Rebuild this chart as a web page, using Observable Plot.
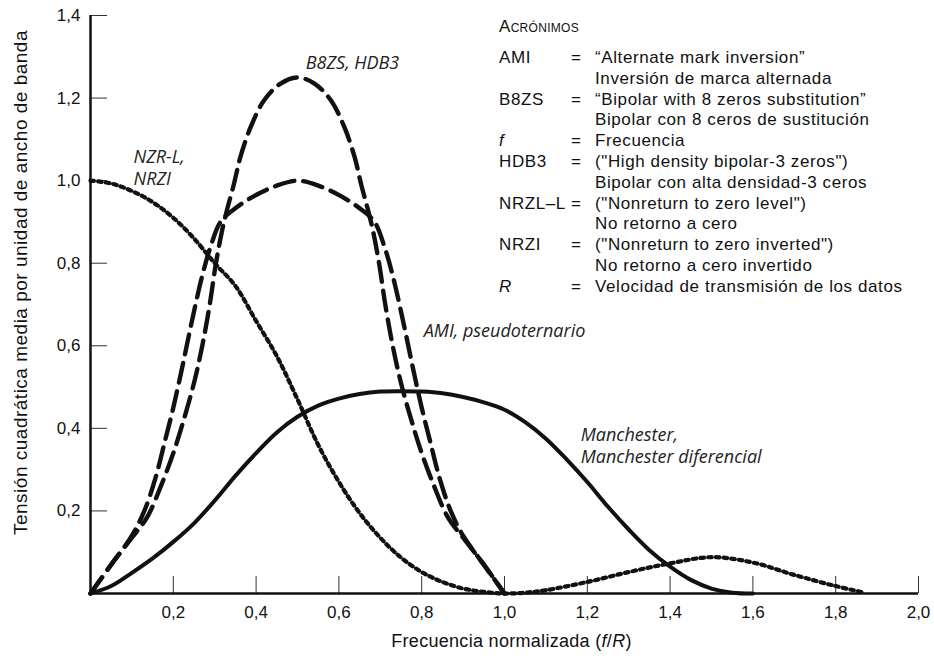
<!DOCTYPE html>
<html><head><meta charset="utf-8">
<script src="https://cdn.jsdelivr.net/npm/d3@7"></script>
<script src="https://cdn.jsdelivr.net/npm/@observablehq/plot@0.6"></script>
<style>
html,body{margin:0;padding:0;background:#fff;}
#wrap{position:relative;width:934px;height:659px;font-family:"Liberation Sans",Arial,sans-serif;color:#111;}
#legend{position:absolute;left:499px;top:17px;font-size:17px;line-height:20.8px;letter-spacing:0.6px;}
#legend .hdr{font-variant:small-caps;height:31px;letter-spacing:0.3px;}
#legend .row{display:grid;grid-template-columns:72px 24px auto;height:20.8px;white-space:nowrap;}
#legend i{font-style:italic;}
</style></head>
<body><div id="wrap"><div id="chart"></div><div id="legend"></div></div>
<script>
// ---- data ----
const xTicks = [0.2, 0.4, 0.6, 0.8, 1.0, 1.2, 1.4, 1.6, 1.8, 2.0];
const yTicks = [0.2, 0.4, 0.6, 0.8, 1.0, 1.2, 1.4];

// NRZ-L, NRZI (dotted)
const nrzF = [0, 0.05, 0.1, 0.15, 0.2, 0.25, 0.3, 0.35, 0.4, 0.45, 0.5, 0.55, 0.6, 0.65, 0.7, 0.75, 0.8, 0.85, 0.9, 0.95, 1.0, 1.05, 1.1, 1.2, 1.3, 1.4, 1.5, 1.6, 1.7, 1.8, 1.87];
const nrzP = [1.0, 0.993, 0.975, 0.948, 0.91, 0.86, 0.8, 0.745, 0.66, 0.575, 0.47, 0.36, 0.27, 0.195, 0.135, 0.087, 0.052, 0.028, 0.012, 0.004, 0, 0.002, 0.008, 0.028, 0.052, 0.073, 0.088, 0.075, 0.045, 0.018, 0.002];

// B8ZS, HDB3 (dashed, peak 1.25)
const b8zsF = [0, 0.05, 0.1, 0.137, 0.17, 0.2, 0.225, 0.25, 0.27, 0.288, 0.303, 0.318, 0.33, 0.346, 0.362, 0.387, 0.419, 0.459, 0.5, 0.541, 0.581, 0.613, 0.638, 0.654, 0.67, 0.682, 0.697, 0.712, 0.73, 0.75, 0.775, 0.8, 0.83, 0.863, 0.9, 0.95, 1.0];
const b8zsP = [0, 0.07, 0.135, 0.185, 0.26, 0.34, 0.42, 0.51, 0.6, 0.7, 0.8, 0.88, 0.93, 0.99, 1.057, 1.13, 1.194, 1.235, 1.25, 1.235, 1.194, 1.13, 1.057, 0.99, 0.93, 0.88, 0.8, 0.7, 0.6, 0.51, 0.42, 0.34, 0.26, 0.185, 0.135, 0.07, 0];

// AMI, pseudoternario (dashed, peak 1.0)
const amiF = [0, 0.05, 0.1, 0.13, 0.157, 0.18, 0.2, 0.222, 0.245, 0.27, 0.29, 0.314, 0.346, 0.394, 0.45, 0.5, 0.55, 0.606, 0.654, 0.686, 0.71, 0.73, 0.755, 0.778, 0.8, 0.82, 0.843, 0.87, 0.9, 0.95, 1.0];
const amiP = [0, 0.07, 0.14, 0.2, 0.28, 0.37, 0.45, 0.55, 0.66, 0.77, 0.84, 0.9, 0.93, 0.962, 0.988, 1.0, 0.988, 0.962, 0.93, 0.9, 0.84, 0.77, 0.66, 0.55, 0.45, 0.37, 0.28, 0.2, 0.14, 0.07, 0];

// Manchester, Manchester diferencial (solid)
const manF = [0, 0.05, 0.1, 0.15, 0.2, 0.25, 0.3, 0.35, 0.4, 0.45, 0.5, 0.55, 0.6, 0.65, 0.7, 0.75, 0.8, 0.85, 0.9, 0.95, 1.0, 1.05, 1.1, 1.15, 1.2, 1.25, 1.3, 1.35, 1.4, 1.45, 1.5, 1.55, 1.6];
const manP = [0, 0.018, 0.05, 0.085, 0.125, 0.17, 0.225, 0.285, 0.34, 0.39, 0.428, 0.455, 0.472, 0.483, 0.489, 0.49, 0.489, 0.485, 0.476, 0.463, 0.445, 0.415, 0.375, 0.325, 0.27, 0.21, 0.155, 0.105, 0.065, 0.033, 0.012, 0.002, 0];

// curve labels (annotation anchor in data units)
const labelText = ["B8ZS, HDB3", "NZR-L,\nNRZI", "AMI, pseudoternario", "Manchester,\nManchester diferencial"];
const labelF = [0.52, 0.104, 0.805, 1.184];
const labelP = [1.287, 1.032, 0.639, 0.36];

// legend
const acronyms = ["AMI", "B8ZS", "f", "HDB3", "NRZL–L", "NRZI", "R"];
const acronymItalic = [false, false, true, false, false, false, true];
const acronymEN = ["“Alternate mark inversion”", "“Bipolar with 8 zeros substitution”", null, "(\"High density bipolar-3 zeros\")", "(\"Nonreturn to zero level\")", "(\"Nonreturn to zero inverted\")", null];
const acronymES = ["Inversión de marca alternada", "Bipolar con 8 ceros de sustitución", "Frecuencia", "Bipolar con alta densidad-3 ceros", "No retorno a cero", "No retorno a cero invertido", "Velocidad de transmisión de los datos"];

const xTitle = "Frecuencia normalizada (f/R)";
const yTitle = "Tensión cuadrática media por unidad de ancho de banda";

// ---- build ----
const toRows = (fs, ps) => fs.map((f, i) => ({f, p: ps[i]}));
const labels = labelText.map((t, i) => ({t, f: labelF[i], p: labelP[i]}));
const fmt = d => d.toFixed(1).replace(".", ",");

const chart = Plot.plot({
  width: 934, height: 659,
  marginLeft: 90, marginRight: 16, marginTop: 15, marginBottom: 66,
  style: {fontFamily: "'Liberation Sans', Arial, sans-serif", fontSize: "17px", background: "#fff", color: "#111"},
  x: {domain: [0, 2]},
  y: {domain: [0, 1.4]},
  marks: [
    Plot.axisX({ticks: xTicks, tickSize: -17, tickPadding: 29, tickFormat: fmt, label: null, stroke: "#333"}),
    Plot.axisY({ticks: yTicks, tickSize: -17, tickPadding: 27, tickFormat: fmt, label: null, stroke: "#333"}),
    Plot.ruleX([0], {stroke: "#111", strokeWidth: 2.5}),
    Plot.ruleY([0], {stroke: "#111", strokeWidth: 2.5}),
    Plot.line(toRows(manF, manP), {x: "f", y: "p", curve: "catmull-rom", stroke: "#111", strokeWidth: 4}),
    Plot.line(toRows(nrzF, nrzP), {x: "f", y: "p", curve: "catmull-rom", stroke: "#111", strokeWidth: 4.2, strokeDasharray: "3.5,4.2"}),
    Plot.line(toRows(amiF, amiP), {x: "f", y: "p", curve: "catmull-rom", stroke: "#111", strokeWidth: 4.4, strokeDasharray: "20,9"}),
    Plot.line(toRows(b8zsF, b8zsP), {x: "f", y: "p", curve: "catmull-rom", stroke: "#111", strokeWidth: 4.4, strokeDasharray: "20,9"}),
    Plot.text(labels, {x: "f", y: "p", text: "t", textAnchor: "start", lineHeight: 1.22, fontStyle: "italic", fontFamily: "'Open Sans', sans-serif", fontSize: 18, fill: "#222"}),
    Plot.text([xTitle], {frameAnchor: "bottom", dx: 7, dy: 53, text: d => d, fontSize: 18}),
    Plot.text([yTitle], {frameAnchor: "left", textAnchor: "middle", dx: -70, dy: -22, rotate: -90, text: d => d, fontSize: 19})
  ]
});
document.getElementById("chart").appendChild(chart);

const svg = d3.select(chart);
// italic f and R in the x title, a little tracking on titles
svg.selectAll("text").filter(function() { return this.textContent === xTitle; }).each(function() {
  const t = d3.select(this);
  t.attr("letter-spacing", "0.3px");
  t.text(null);
  t.append("tspan").text("Frecuencia normalizada (");
  t.append("tspan").attr("font-style", "italic").text("f");
  t.append("tspan").text("/");
  t.append("tspan").attr("font-style", "italic").text("R");
  t.append("tspan").text(")");
});
svg.selectAll("text").filter(function() { return this.textContent === yTitle; }).attr("letter-spacing", "0.5px");

// legend
const lg = d3.select("#legend");
lg.append("div").attr("class", "hdr").text("Acrónimos");
acronyms.forEach((a, i) => {
  const r = lg.append("div").attr("class", "row");
  const c1 = r.append("span");
  if (acronymItalic[i]) c1.append("i").text(a); else c1.text(a);
  r.append("span").text("=");
  r.append("span").text(acronymEN[i] ?? acronymES[i]);
  if (acronymEN[i]) {
    const r2 = lg.append("div").attr("class", "row");
    r2.append("span"); r2.append("span");
    r2.append("span").text(acronymES[i]);
  }
});
</script></body></html>
